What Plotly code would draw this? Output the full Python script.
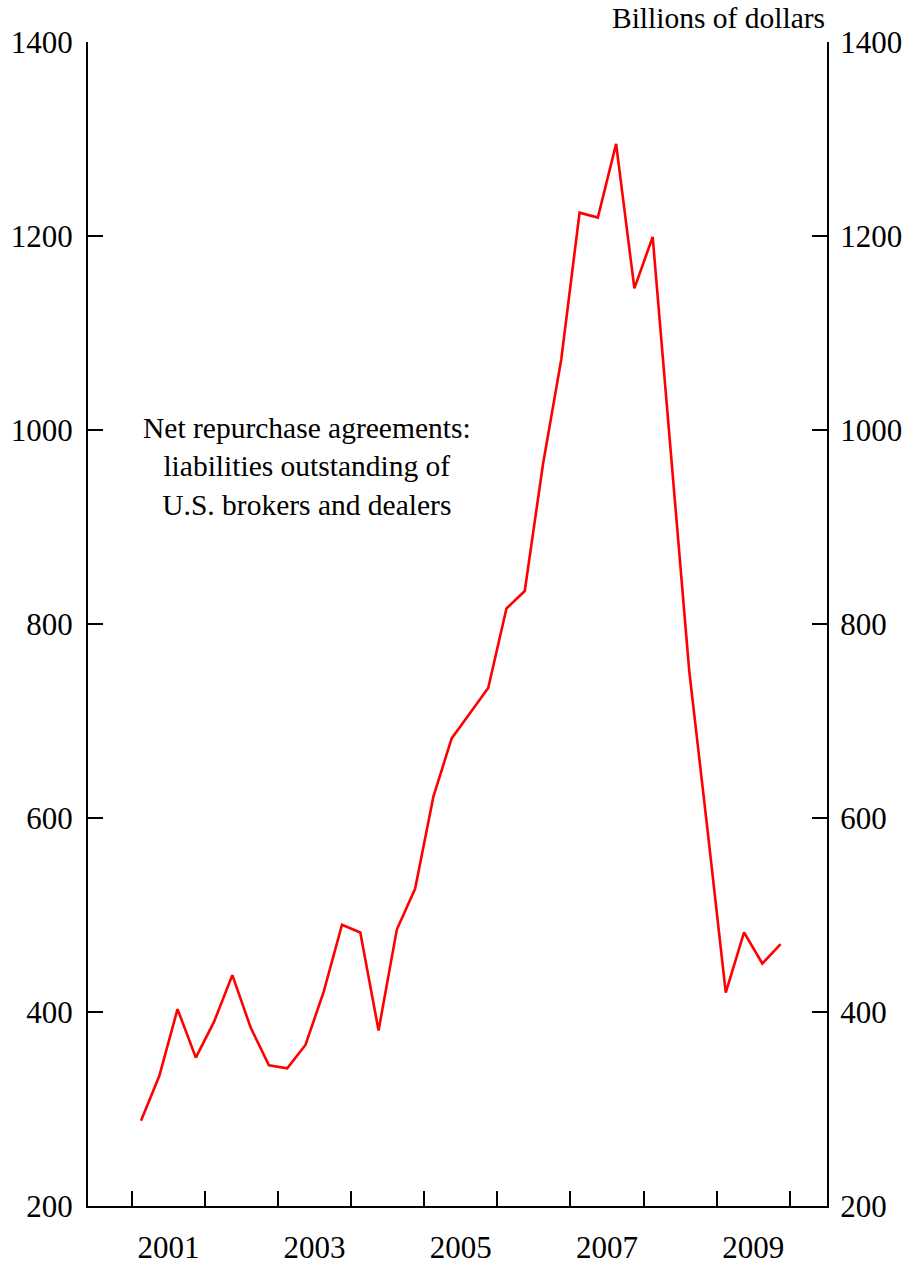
import plotly.graph_objects as go

years = list(range(2001, 2010))
quarters = [1, 2, 3, 4]
quarter_labels = [f"{y}Q{q}" for y in years for q in quarters]
repo_values = [
    288, 334, 403, 353,
    390, 438, 384, 345,
    342, 366, 421, 490,
    482, 381, 485, 527,
    622, 682, 708, 734,
    816, 834, 965, 1073,
    1224, 1219, 1295, 1146,
    1199, 975, 752, 588,
    420, 482, 450, 470,
]
year_boundaries = list(range(2001, 2011))
label_years = [2001, 2003, 2005, 2007, 2009]
y_ticks = [200, 400, 600, 800, 1000, 1200, 1400]

# quarter midpoints as decimal years
x_vals = [int(l[:4]) + (int(l[-1]) - 0.5) / 4 for l in quarter_labels]

FONT = "Liberation Serif, Times New Roman, serif"
FS = 29.5
TFS = 31
XR = [2000.40, 2010.51]
YR = [200, 1400]

fig = go.Figure()
fig.add_trace(go.Scatter(x=x_vals, y=repo_values, mode="lines",
                         line=dict(color="#ff0000", width=2.6),
                         hoverinfo="skip", showlegend=False))
# invisible trace to anchor secondary axes
fig.add_trace(go.Scatter(x=[XR[0]], y=[YR[0]], xaxis="x2", yaxis="y2",
                         mode="markers", marker=dict(opacity=0),
                         showlegend=False, hoverinfo="skip"))

fig.update_layout(
    width=913, height=1266,
    margin=dict(l=88, r=86, t=42, b=60, autoexpand=False),
    paper_bgcolor="white", plot_bgcolor="white",
    font=dict(family=FONT, size=FS, color="black"),
    xaxis=dict(range=XR, tickmode="array", tickvals=year_boundaries,
               showticklabels=False, ticks="inside", ticklen=15, tickwidth=2,
               tickcolor="black", showline=True, linecolor="black", linewidth=2,
               showgrid=False, zeroline=False, automargin=False),
    xaxis2=dict(range=XR, overlaying="x", side="bottom", anchor="y",
                tickmode="array", tickvals=[y + 0.5 for y in label_years],
                ticktext=[str(y) for y in label_years], ticks="",
                ticklabelstandoff=20, automargin=False,
                showline=False, showgrid=False, zeroline=False,
                tickfont=dict(family=FONT, size=TFS, color="black")),
    yaxis=dict(range=YR, tickmode="array", tickvals=y_ticks,
               ticktext=[str(v) for v in y_ticks], ticks="inside", ticklen=15,
               tickwidth=2, tickcolor="black", showline=True, linecolor="black",
               linewidth=2, showgrid=False, zeroline=False, automargin=False,
               ticklabelstandoff=7,
               tickfont=dict(family=FONT, size=TFS, color="black")),
    yaxis2=dict(range=YR, overlaying="y", side="right", anchor="x",
                tickmode="array", tickvals=y_ticks,
                ticktext=[str(v) for v in y_ticks], ticks="inside", ticklen=15,
                tickwidth=2, tickcolor="black", showline=True, linecolor="black",
                linewidth=2, showgrid=False, zeroline=False, automargin=False,
                ticklabelstandoff=5,
                tickfont=dict(family=FONT, size=TFS, color="black")),
    annotations=[
        dict(text="Billions of dollars", xref="paper", yref="paper",
             x=1.0, y=1.0, xanchor="right", yanchor="bottom", yshift=6,
             showarrow=False, font=dict(family=FONT, size=FS, color="black")),
        dict(text="Net repurchase agreements:<br>liabilities outstanding of<br>U.S. brokers and dealers",
             xref="x", yref="y", x=2003.39, y=962, xanchor="center", yanchor="middle",
             showarrow=False, align="center",
             font=dict(family=FONT, size=FS, color="black")),
    ],
)

fig.write_html("out.html", config={"displayModeBar": False},
               post_script="document.body.style.margin='0';document.body.style.padding='0';")
